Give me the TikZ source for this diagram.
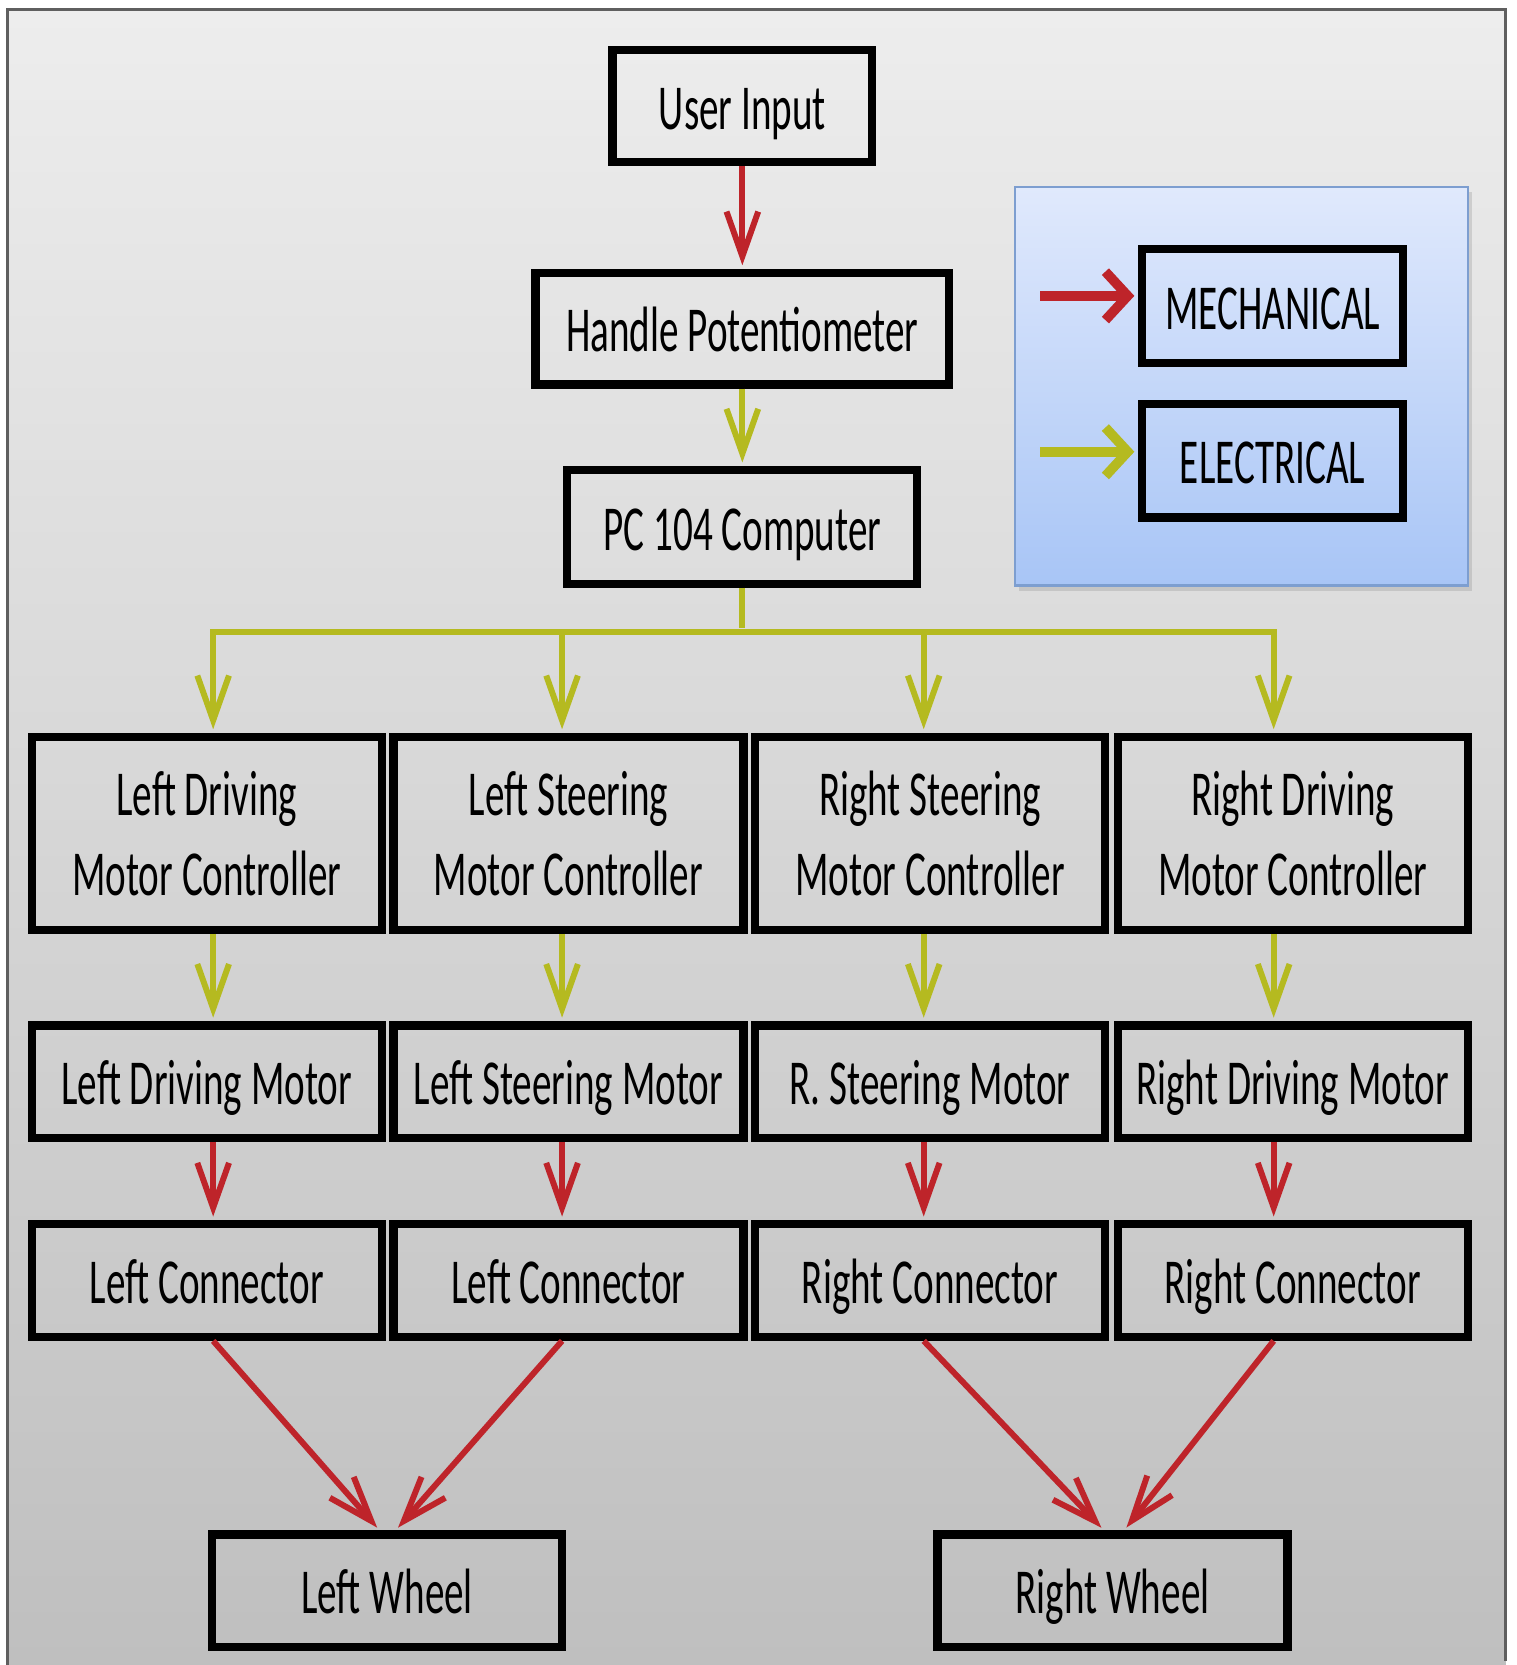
\documentclass[tikz,border=0pt]{standalone}
\usepackage{fontspec}
\setmainfont{Carlito}[FakeStretch=0.61]
\usepackage{xcolor}
\usepackage{tikz}
\usetikzlibrary{arrows.meta,shadows}

\definecolor{mechred}{RGB}{190,36,42}
\definecolor{elecgreen}{RGB}{181,186,32}
\definecolor{legendtop}{RGB}{224,233,252}
\definecolor{legendbot}{RGB}{168,197,246}
\definecolor{legendline}{RGB}{125,158,208}
\definecolor{pagetop}{RGB}{237,237,237}
\definecolor{pagebot}{RGB}{191,191,191}
\definecolor{framegray}{RGB}{95,95,95}

\begin{document}
\begin{tikzpicture}[->,>={Straight Barb[length=12pt,width=8.5pt]},shorten >=1pt,semithick,
        font=\fontsize{17.2}{21.6}\selectfont,
        box/.style={rectangle,draw=black,line width=2.2pt,minimum width=3.30cm,minimum height=1.06cm,inner sep=0pt,align=center},
        blk/.style={box,text height=12.4pt,text depth=0pt},
        ctl/.style={box,minimum height=1.82cm},
        mech/.style={draw=mechred,line width=1.6pt},
        elec/.style={draw=elecgreen,line width=1.6pt},
        legmech/.style={mech,line width=2.6pt,-{Straight Barb[length=6pt,width=13pt]}},
        legelec/.style={elec,line width=2.6pt,-{Straight Barb[length=6pt,width=13pt]}}]
                \useasboundingbox (0,0) rectangle (14.30,15.70);
                % page
                \shade[top color=pagetop,bottom color=pagebot] (0.07,0) rectangle (14.20,15.61);
                \draw[-,framegray,line width=0.8pt] (0.07,0) -- (0.07,15.61) -- (14.20,15.61) -- (14.20,0);
                % legend
                \draw[-,legendline,top color=legendtop,bottom color=legendbot,
                    drop shadow={opacity=0.25,shadow xshift=0.04cm,shadow yshift=-0.05cm}] (9.57,13.94) rectangle (13.84,10.18);
                \node[blk,minimum width=2.46cm,minimum height=1.07cm] (mlab) at (12.00,12.815) {MECHANICAL};
                \node[blk,minimum width=2.46cm,minimum height=1.07cm] (elab) at (12.00,11.355) {ELECTRICAL};
                \coordinate (mfrom) at (9.81,12.91);
                \coordinate (efrom) at (9.81,11.44);
                \draw[legmech] (mfrom) -- (mfrom -| mlab.west);
                \draw[legelec] (efrom) -- (efrom -| elab.west);
                % chain
                \node[blk,minimum width=2.45cm] (user) at (7.00,14.70) {User Input};
                \node[blk,minimum width=3.90cm,minimum height=1.05cm] (pot) [below of=user,node distance=2.10cm] {Handle Potentiometer};
                \node[blk,minimum height=1.07cm] (pc) [below of=pot,node distance=1.87cm] {PC 104 Computer};
                \node[ctl] (ldc) at (1.95,7.84) {Left Driving\\Motor Controller};
                \node[ctl] (lsc) [right of=ldc,node distance=3.41cm] {Left Steering\\Motor Controller};
                \node[ctl] (rsc) [right of=lsc,node distance=3.41cm] {Right Steering\\Motor Controller};
                \node[ctl] (rdc) [right of=rsc,node distance=3.42cm] {Right Driving\\Motor Controller};
                \node[blk] (ldm) [below of=ldc,node distance=2.34cm] {Left Driving Motor};
                \node[blk] (lsm) [below of=lsc,node distance=2.34cm] {Left Steering Motor};
                \node[blk] (rsm) [below of=rsc,node distance=2.34cm] {R. Steering Motor};
                \node[blk] (rdm) [below of=rdc,node distance=2.34cm] {Right Driving Motor};
                \node[blk] (lcon1) [below of=ldm,node distance=1.875cm] {Left Connector};
                \node[blk] (lcon2) [below of=lsm,node distance=1.875cm] {Left Connector};
                \node[blk] (rcon1) [below of=rsm,node distance=1.875cm] {Right Connector};
                \node[blk] (rcon2) [below of=rdm,node distance=1.875cm] {Right Connector};
                \node[blk] (lwh) at (3.65,0.70) {Left Wheel};
                \node[blk] (rwh) at (10.49,0.70) {Right Wheel};
                \path
                    (user) edge[mech] (pot)
                    (pot) edge[elec] (pc)
                    ([xshift=0.06cm]ldc.south) edge[elec] ([xshift=0.06cm]ldm.north)
                    ([xshift=-0.06cm]lsc.south) edge[elec] ([xshift=-0.06cm]lsm.north)
                    ([xshift=-0.06cm]rsc.south) edge[elec] ([xshift=-0.06cm]rsm.north)
                    ([xshift=-0.18cm]rdc.south) edge[elec] ([xshift=-0.18cm]rdm.north)
                    ([xshift=0.06cm]ldm.south) edge[mech] ([xshift=0.06cm]lcon1.north)
                    ([xshift=-0.06cm]lsm.south) edge[mech] ([xshift=-0.06cm]lcon2.north)
                    ([xshift=-0.06cm]rsm.south) edge[mech] ([xshift=-0.06cm]rcon1.north)
                    ([xshift=-0.18cm]rdm.south) edge[mech] ([xshift=-0.18cm]rcon2.north)
                    ([xshift=0.06cm]lcon1.south) edge[mech] ([xshift=-0.07cm]lwh.north)
                    ([xshift=-0.06cm]lcon2.south) edge[mech] ([xshift=0.08cm]lwh.north)
                    ([xshift=-0.06cm]rcon1.south) edge[mech] ([xshift=-0.08cm]rwh.north)
                    ([xshift=-0.18cm]rcon2.south) edge[mech] ([xshift=0.11cm]rwh.north);
                % bus
                \draw[elec,-] (pc.south) -- ++(0,-0.415) coordinate (bus);
                \draw[elec] (bus) -| ([xshift=0.06cm]ldc.north);
                \draw[elec] (bus) -| ([xshift=-0.06cm]lsc.north);
                \draw[elec] (bus) -| ([xshift=-0.06cm]rsc.north);
                \draw[elec] (bus) -| ([xshift=-0.18cm]rdc.north);
            \end{tikzpicture}
\end{document}
